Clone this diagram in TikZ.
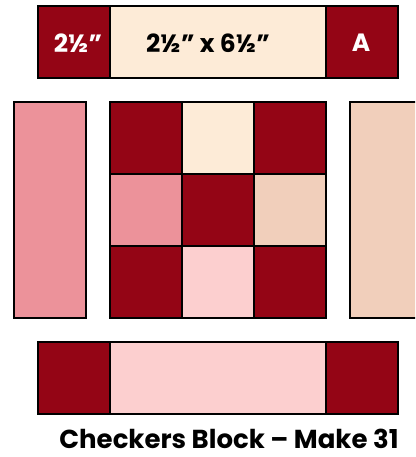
\documentclass[tikz,border=0pt]{standalone}
\usepackage{fontspec}
\setmainfont{Poppins}

\definecolor{quiltred}{HTML}{940515}
\definecolor{quiltcream}{HTML}{FDEBD7}
\definecolor{quiltpink}{HTML}{EC929A}
\definecolor{quiltblush}{HTML}{FCCFCF}
\definecolor{quiltpeach}{HTML}{F1CFBB}

\tikzset{
    patch/.style={draw=black, line width=1.3pt, inner sep=0pt, outer sep=0pt,
        minimum width=72pt, minimum height=72pt, anchor=north west},
    strip/.style={patch, minimum width=216pt},
    tall/.style={patch, minimum height=216pt},
    cut/.style={font=\bfseries\fontsize{25}{25}\selectfont}
}

\begin{document}
\begin{tikzpicture}[x=1pt, y=-1pt]
        \clip (0,0) rectangle (415,457);

        % Tira superior
        \node[patch, fill=quiltred] (topl) at (38,6) {};
        \node[strip, fill=quiltcream] (topm) at (110,6) {};
        \node[patch, fill=quiltred] (topr) at (326,6) {};
        \node[cut, white] (sqlabel) at (78,43) {2½"};
        \node[cut, black] (striplabel) at (208,43) {2½" x 6½"};
        \node[cut, white] (alabel) at (361,43) {A};

        % Tiras laterales
        \node[tall, fill=quiltpink] (left) at (14,102) {};
        \node[tall, fill=quiltpeach] (right) at (350,102) {};

        % Centro de nueve cuadros
        \node[patch, fill=quiltred] (c11) at (110,102) {};
        \node[patch, fill=quiltcream] (c12) at (182,102) {};
        \node[patch, fill=quiltred] (c13) at (254,102) {};
        \node[patch, fill=quiltpink] (c21) at (110,174) {};
        \node[patch, fill=quiltred] (c22) at (182,174) {};
        \node[patch, fill=quiltpeach] (c23) at (254,174) {};
        \node[patch, fill=quiltred] (c31) at (110,246) {};
        \node[patch, fill=quiltblush] (c32) at (182,246) {};
        \node[patch, fill=quiltred] (c33) at (254,246) {};

        % Tira inferior
        \node[patch, fill=quiltred] (botl) at (38,342) {};
        \node[strip, fill=quiltblush] (botm) at (110,342) {};
        \node[patch, fill=quiltred] (botr) at (326,342) {};

        % Titulo
        \node[anchor=base, inner sep=0pt, text depth=0pt, font=\bfseries\fontsize{26}{26}\selectfont] (title) at (229,448) {Checkers Block – Make 31};
\end{tikzpicture}
\end{document}
